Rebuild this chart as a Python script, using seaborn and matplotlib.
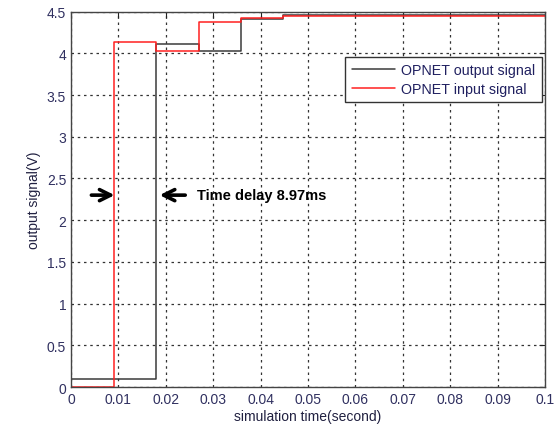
import numpy as np
import pandas as pd
import matplotlib
matplotlib.use("Agg")
import matplotlib.pyplot as plt
import seaborn as sns

# ---- data ----
out_t = [0, 0.0179, 0.0271, 0.0359, 0.0448, 0.1]
out_v = [0.1, 4.11, 4.03, 4.41, 4.46, 4.46]
in_t = [0, 0.0091, 0.0180, 0.0271, 0.0359, 0.0448, 0.1]
in_v = [0, 4.13, 4.03, 4.38, 4.42, 4.45, 4.45]
series_names = ["OPNET output signal", "OPNET input signal"]
x_ticks = [0, 0.01, 0.02, 0.03, 0.04, 0.05, 0.06, 0.07, 0.08, 0.09, 0.1]
x_tick_labels = ["0", "0.01", "0.02", "0.03", "0.04", "0.05", "0.06", "0.07", "0.08", "0.09", "0.1"]
y_ticks = [0, 0.5, 1, 1.5, 2, 2.5, 3, 3.5, 4, 4.5]
y_tick_labels = ["0", "0.5", "1", "1.5", "2", "2.5", "3", "3.5", "4", "4.5"]
annot_text = "Time delay 8.97ms"

df = pd.concat([
    pd.DataFrame({"t": out_t, "v": out_v, "series": series_names[0]}),
    pd.DataFrame({"t": in_t, "v": in_v, "series": series_names[1]}),
], ignore_index=True)

sns.set_style("white")
plt.rcParams["font.family"] = ["Liberation Sans", "DejaVu Sans"]

fig = plt.figure(figsize=(5.56, 4.27), dpi=100)
ax = fig.add_axes([0.1277, 0.0913, 0.8525, 0.8792])

sns.lineplot(data=df, x="t", y="v", hue="series", hue_order=series_names,
             palette={series_names[0]: "#3a3a3a", series_names[1]: "#ff2020"},
             drawstyle="steps-post", estimator=None, sort=False, linewidth=1.1, ax=ax)

ax.set_xlim(0, 0.1)
ax.set_ylim(0, 4.5)
ax.set_xticks(x_ticks)
ax.set_xticklabels(x_tick_labels)
ax.set_yticks(y_ticks)
ax.set_yticklabels(y_tick_labels)
ax.tick_params(direction="in", length=4, width=0.8, top=True, right=True,
               labelsize=10, colors="#222222", labelcolor="#303060")
ax.grid(True, color="#333333", linestyle=(0, (2, 3)), linewidth=0.9)
for s in ax.spines.values():
    s.set_color("#444444")
    s.set_linewidth(1.0)

ax.set_xlabel("simulation time(second)", fontsize=10, color="#202040", labelpad=2)
ax.set_ylabel("output signal(V)", fontsize=10, color="#202040", labelpad=4)

leg = ax.legend(loc="upper right", bbox_to_anchor=(0.993, 0.879), borderaxespad=0,
                fontsize=10.3, frameon=True, fancybox=False, handlelength=3.0,
                handletextpad=0.45, labelcolor="#202060", borderpad=0.45,
                labelspacing=0.3)
leg.get_frame().set_edgecolor("#333333")
leg.get_frame().set_linewidth(1.0)
leg.get_frame().set_alpha(1)

arrow_y = 2.30
aprops = dict(arrowstyle="->", lw=2.6, color="black", mutation_scale=20,
              shrinkA=0, shrinkB=0)
ax.annotate("", xy=(0.0092, arrow_y), xytext=(0.0043, arrow_y), arrowprops=aprops)
ax.annotate("", xy=(0.0187, arrow_y), xytext=(0.0241, arrow_y), arrowprops=aprops)
ax.text(0.0266, arrow_y, annot_text, fontsize=10.5, fontweight="bold",
        va="center", ha="left", color="black")

fig.savefig("out.png", dpi=100)
